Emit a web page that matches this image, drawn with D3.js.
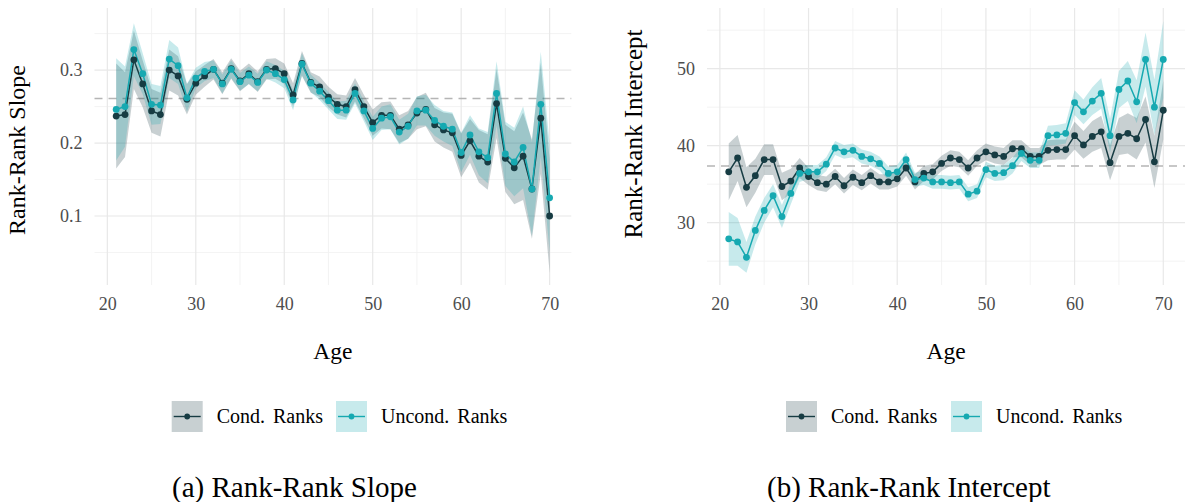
<!DOCTYPE html>
<html><head><meta charset="utf-8">
<script src="https://cdn.jsdelivr.net/npm/d3@7"></script>
<style>
body{margin:0;background:#fff}
svg{display:block}
text{font-family:"Liberation Serif","Times New Roman",serif}
</style>
</head><body>
<svg id="chart" width="1188" height="502"></svg>
<script>
// ---------- data ----------
const ages = d3.range(21, 71);               // ages 21..70
const xMajorTicks = [20, 30, 40, 50, 60, 70];
const xMinorTicks = [25, 35, 45, 55, 65];

// Panel (a): rank-rank slope
const slopeCond = [0.237,0.239,0.314,0.281,0.244,0.239,0.300,0.292,0.260,0.282,
  0.292,0.301,0.282,0.302,0.285,0.295,0.284,0.301,0.302,0.295,
  0.266,0.309,0.283,0.277,0.263,0.253,0.250,0.273,0.250,0.228,
  0.238,0.238,0.219,0.225,0.241,0.246,0.225,0.218,0.214,0.183,
  0.203,0.182,0.174,0.254,0.179,0.166,0.182,0.137,0.234,0.100];
const slopeUncond = [0.246,0.250,0.328,0.295,0.253,0.252,0.315,0.306,0.262,0.289,
  0.298,0.301,0.281,0.301,0.284,0.293,0.283,0.300,0.295,0.287,
  0.259,0.308,0.282,0.271,0.258,0.245,0.245,0.268,0.244,0.220,
  0.234,0.236,0.215,0.223,0.244,0.245,0.231,0.223,0.219,0.187,
  0.211,0.188,0.180,0.268,0.185,0.174,0.194,0.137,0.253,0.125];
const slopeCondCI = [0.072,0.058,0.040,0.032,0.030,0.030,0.028,0.027,0.021,0.016,
  0.015,0.014,0.015,0.014,0.014,0.014,0.014,0.014,0.014,0.014,
  0.016,0.017,0.014,0.014,0.014,0.014,0.015,0.016,0.016,0.018,
  0.018,0.019,0.019,0.019,0.022,0.023,0.023,0.024,0.026,0.030,
  0.030,0.036,0.038,0.047,0.046,0.050,0.060,0.068,0.076,0.078];
const slopeUncondCI = [0.070,0.055,0.036,0.028,0.028,0.026,0.026,0.025,0.019,0.014,
  0.013,0.012,0.013,0.012,0.012,0.012,0.012,0.012,0.012,0.012,
  0.014,0.015,0.012,0.012,0.012,0.012,0.013,0.014,0.014,0.016,
  0.016,0.017,0.017,0.017,0.020,0.021,0.021,0.021,0.023,0.027,
  0.027,0.032,0.035,0.044,0.044,0.047,0.056,0.064,0.072,0.074];
const slopeRef = 0.261;
const slopeMajorTicks = [0.1, 0.2, 0.3];
const slopeMinorTicks = [0.05, 0.15, 0.25, 0.35];

// Panel (b): rank-rank intercept
const intCond = [36.6,38.4,34.6,36.1,38.2,38.2,34.7,35.4,37.1,36.0,
  35.2,35.0,36.0,34.8,35.9,35.2,36.1,35.3,35.3,35.7,
  37.1,35.3,36.4,36.6,37.7,38.4,38.2,37.1,38.4,39.2,
  38.8,38.6,39.6,39.6,38.6,38.6,39.4,39.5,39.5,41.3,
  40.1,41.2,41.8,37.8,41.2,41.6,40.9,43.4,37.9,44.6];
const intUncond = [27.9,27.5,25.5,29.0,31.6,33.5,30.8,33.8,36.4,36.6,
  36.6,37.6,39.7,39.2,39.4,38.6,38.3,37.7,36.4,36.6,
  38.2,35.6,35.8,35.3,35.3,35.2,35.3,33.7,34.1,36.9,
  36.4,36.5,37.4,39.0,38.1,38.1,41.3,41.4,41.6,45.6,
  44.4,45.8,46.8,41.3,47.3,48.4,45.7,51.2,45.0,51.2];
const intCondCI = [3.7,3.0,2.6,2.2,2.0,2.0,1.8,1.6,1.3,1.1,
  1.0,1.0,1.0,1.0,1.0,1.0,1.0,1.0,1.0,1.0,
  1.0,1.0,1.0,1.0,1.0,1.0,1.0,1.0,1.0,1.1,
  1.1,1.1,1.1,1.1,1.1,1.1,1.3,1.3,1.3,1.8,
  1.8,2.0,2.1,2.3,2.4,2.6,2.7,3.0,3.4,3.8];
const intUncondCI = [3.5,3.1,2.0,1.8,1.6,1.5,1.5,1.4,1.1,0.9,
  0.9,0.9,0.9,0.9,0.9,0.9,0.9,0.9,0.9,0.9,
  0.9,0.9,0.9,0.9,0.9,0.9,0.9,0.9,0.9,1.0,
  1.0,1.0,1.0,1.0,1.0,1.0,1.3,1.3,1.3,1.6,
  1.6,1.8,2.0,2.2,2.4,2.6,2.8,3.5,3.6,5.0];
const intRef = 37.36;
const intMajorTicks = [30, 40, 50];
const intMinorTicks = [25, 35, 45, 55];

const seriesNames = ["Cond. Ranks", "Uncond. Ranks"];

// ---------- style ----------
const COL = {cond: "#173c43", uncond: "#16a9b1"};
const RIBBON_ALPHA = 0.24;
const svg = d3.select("#chart");
const TOP = 8, BOTTOM = 285;

function drawPanel(cfg) {
  const g = svg.append("g");
  const x = d3.scaleLinear().domain([18.55, 72.45]).range([cfg.left, cfg.right]);
  const y = d3.scaleLinear().domain(cfg.yDomain).range([BOTTOM, TOP]);

  // grid
  const grid = g.append("g");
  grid.selectAll(".vmin").data(xMinorTicks).join("line")
    .attr("x1", d => x(d)).attr("x2", d => x(d)).attr("y1", TOP).attr("y2", BOTTOM)
    .attr("stroke", "#f0f0f0").attr("stroke-width", 0.8);
  grid.selectAll(".hmin").data(cfg.yMinor).join("line")
    .attr("y1", d => y(d)).attr("y2", d => y(d)).attr("x1", cfg.left).attr("x2", cfg.right)
    .attr("stroke", "#f0f0f0").attr("stroke-width", 0.8);
  grid.selectAll(".vmaj").data(xMajorTicks).join("line")
    .attr("x1", d => x(d)).attr("x2", d => x(d)).attr("y1", TOP).attr("y2", BOTTOM)
    .attr("stroke", "#e8e8e8").attr("stroke-width", 1.2);
  grid.selectAll(".hmaj").data(cfg.yMajor).join("line")
    .attr("y1", d => y(d)).attr("y2", d => y(d)).attr("x1", cfg.left).attr("x2", cfg.right)
    .attr("stroke", "#e8e8e8").attr("stroke-width", 1.2);

  // reference dashed line
  g.append("line")
    .attr("x1", cfg.left).attr("x2", cfg.right)
    .attr("y1", y(cfg.ref)).attr("y2", y(cfg.ref))
    .attr("stroke", "#b5b5b5").attr("stroke-width", 1.3).attr("stroke-dasharray", "8,6");

  const series = [
    {key: "cond", v: cfg.cond, ci: cfg.condCI},
    {key: "uncond", v: cfg.uncond, ci: cfg.uncondCI}
  ].map(s => ({key: s.key, pts: ages.map((a, i) => ({a, v: s.v[i], lo: s.v[i] - s.ci[i], hi: s.v[i] + s.ci[i]}))}));

  const clipId = "clip" + cfg.id;
  svg.append("clipPath").attr("id", clipId).append("rect")
    .attr("x", cfg.left).attr("y", TOP).attr("width", cfg.right - cfg.left).attr("height", BOTTOM - TOP);
  const plot = g.append("g").attr("clip-path", `url(#${clipId})`);

  const area = d3.area().x(d => x(d.a)).y0(d => y(d.lo)).y1(d => y(d.hi));
  const line = d3.line().x(d => x(d.a)).y(d => y(d.v));

  plot.selectAll(".rib").data(series).join("path")
    .attr("d", s => area(s.pts)).attr("fill", s => COL[s.key]).attr("fill-opacity", RIBBON_ALPHA);
  plot.selectAll(".ln").data(series).join("path")
    .attr("d", s => line(s.pts)).attr("fill", "none").attr("stroke", s => COL[s.key]).attr("stroke-width", 1.5);
  series.forEach(s => {
    plot.append("g").selectAll("circle").data(s.pts).join("circle")
      .attr("cx", d => x(d.a)).attr("cy", d => y(d.v)).attr("r", 3.4).attr("fill", COL[s.key]);
  });

  // axes
  const ax = g.append("g").attr("transform", `translate(${cfg.left},0)`)
    .call(d3.axisLeft(y).tickValues(cfg.yMajor).tickSize(0).tickPadding(12).tickFormat(cfg.fmt));
  const bx = g.append("g").attr("transform", `translate(0,${BOTTOM})`)
    .call(d3.axisBottom(x).tickValues(xMajorTicks).tickSize(0).tickPadding(12).tickFormat(d3.format("d")));
  [ax, bx].forEach(a => {
    a.select(".domain").remove();
    a.selectAll("text").attr("font-family", "Liberation Serif, serif").attr("font-size", 18).attr("fill", "#4d4d4d");
    a.attr("font-family", null).attr("font-size", null);
  });

  // axis titles
  g.append("text").attr("x", (cfg.left + cfg.right) / 2).attr("y", 359)
    .attr("text-anchor", "middle").attr("font-size", 23.5).attr("fill", "#000").text("Age");
  g.append("text").attr("transform", `translate(${cfg.yTitleX},${cfg.yTitleY}) rotate(-90)`)
    .attr("text-anchor", "middle").attr("font-size", cfg.yTitleSize).attr("fill", "#000").text(cfg.yTitle);

  // legend
  const keys = ["cond", "uncond"];
  keys.forEach((k, i) => {
    const bx0 = cfg.legendX[i];
    const lg = g.append("g");
    lg.append("rect").attr("x", bx0).attr("y", 401).attr("width", 31).attr("height", 31)
      .attr("fill", COL[k]).attr("fill-opacity", RIBBON_ALPHA);
    lg.append("line").attr("x1", bx0 + 2).attr("x2", bx0 + 29).attr("y1", 416.5).attr("y2", 416.5)
      .attr("stroke", COL[k]).attr("stroke-width", 1.4);
    lg.append("circle").attr("cx", bx0 + 15.5).attr("cy", 416.5).attr("r", 2.9).attr("fill", COL[k]);
    lg.append("text").attr("x", bx0 + 45).attr("y", 423.3).attr("font-size", 20).attr("fill", "#000")
      .attr("word-spacing", 3).text(seriesNames[i]);
  });

  // caption
  g.append("text").attr("x", cfg.captionX).attr("y", 496.5).attr("font-size", 29).attr("fill", "#000")
    .text(cfg.caption);
}

drawPanel({
  id: "a", left: 94.5, right: 571.3, yDomain: [0.0055, 0.3795 + 0.0055],
  yMajor: slopeMajorTicks, yMinor: slopeMinorTicks, fmt: d3.format(".1f"),
  cond: slopeCond, uncond: slopeUncond, condCI: slopeCondCI, uncondCI: slopeUncondCI, ref: slopeRef,
  yTitle: "Rank-Rank Slope", yTitleX: 25, yTitleY: 150, yTitleSize: 24,
  legendX: [171.7, 336], caption: "(a) Rank-Rank Slope", captionX: 172
});
drawPanel({
  id: "b", left: 707, right: 1185, yDomain: [21.91, 57.88],
  yMajor: intMajorTicks, yMinor: intMinorTicks, fmt: d3.format("d"),
  cond: intCond, uncond: intUncond, condCI: intCondCI, uncondCI: intUncondCI, ref: intRef,
  yTitle: "Rank-Rank Intercept", yTitleX: 641.7, yTitleY: 134, yTitleSize: 25,
  legendX: [786, 951], caption: "(b) Rank-Rank Intercept", captionX: 767
});
</script>
</body></html>
